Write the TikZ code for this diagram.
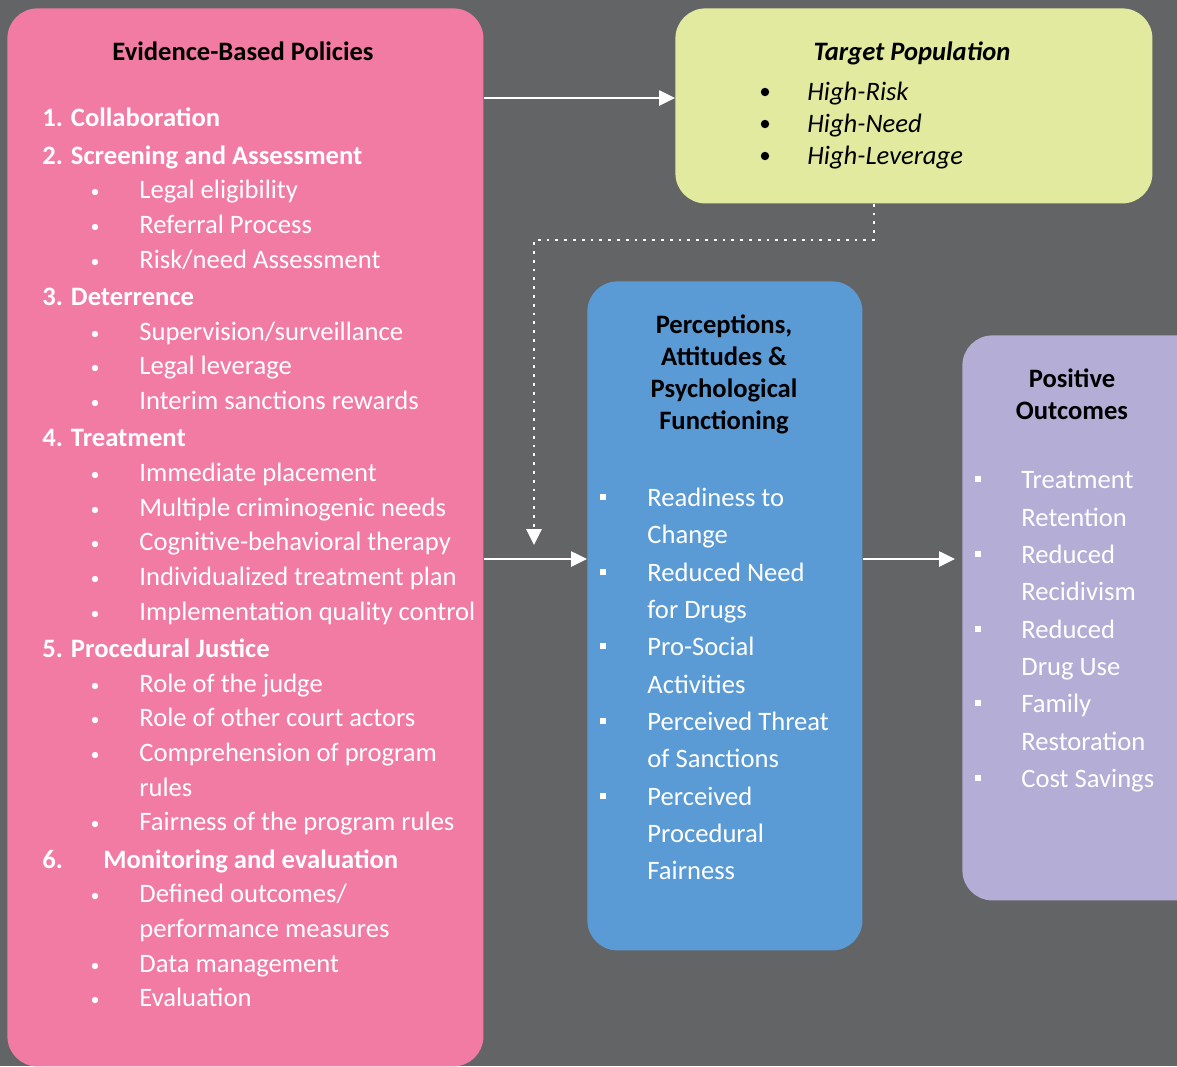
\documentclass[tikz,border=0pt]{standalone}
\usepackage{fontspec}
\setmainfont{Carlito}
\usetikzlibrary{arrows.meta,positioning}
\definecolor{bggray}{RGB}{99,100,102}
\definecolor{pinkbox}{RGB}{242,123,163}
\definecolor{yellowbox}{RGB}{225,234,158}
\definecolor{bluebox}{RGB}{91,155,213}
\definecolor{purplebox}{RGB}{180,173,214}
\newcommand{\fs}{\fontsize{13.3}{16}\selectfont}
\tikzset{
    box/.style = {rectangle, rounded corners=15pt, inner sep=0pt, anchor=north west},
    head/.style = {font=\fs\bfseries, text=black, anchor=base, inner sep=0pt},
    lvl/.style = {font=\fs\bfseries, text=white, anchor=base west, inner sep=0pt},
    item/.style = {font=\fs, text=white, anchor=base west, inner sep=0pt},
    target/.style = {font=\fs\itshape, text=black, anchor=base west, inner sep=0pt},
    dot/.style = {circle, fill=white, inner sep=0pt, minimum size=3.2pt},
    bigdot/.style = {circle, fill=black, inner sep=0pt, minimum size=4.2pt},
    sq/.style = {rectangle, fill=white, inner sep=0pt, minimum size=3pt},
    flow/.style = {draw=white, line width=1.3pt, -{Triangle[length=8pt,width=7.5pt]}},
    dotflow/.style = {draw=white, line width=1.4pt, dash pattern=on 1.4pt off 3pt,
        -{Triangle[length=8pt,width=7.5pt]}}
}

\begin{document}
\begin{tikzpicture}[x=0.5pt,y=-0.5pt]
\fill[bggray] (0,0) rectangle (1177,1066);
\useasboundingbox (0,0) rectangle (1177,1066);
% boxes
\node[box, fill=pinkbox, minimum width=238pt, minimum height=529pt] (policies) at (7,8) {};
\node[box, fill=yellowbox, minimum width=238.5pt, minimum height=97.5pt] (target) at (675,8) {};
\node[box, fill=bluebox, minimum width=137.5pt, minimum height=334.5pt] (percep) at (587,281) {};
\node[box, fill=purplebox, minimum width=125pt, minimum height=282.5pt] (outcome) at (962,335) {};

% evidence-based policies
\node[head] (ptitle) at (243,60) {Evidence-Based Policies};
\node[lvl] (l1) at (42,126) {1. Collaboration};
\node[lvl] (l2) at (42,164) {2. Screening and Assessment};
\node[item] (s21) at (139,198) {Legal eligibility};
\node[item] (s22) at (139,233) {Referral Process};
\node[item] (s23) at (139,268) {Risk/need Assessment};
\node[lvl] (l3) at (42,305) {3. Deterrence};
\node[item] (s31) at (139,340) {Supervision/surveillance};
\node[item] (s32) at (139,374) {Legal leverage};
\node[item] (s33) at (139,409) {Interim sanctions rewards};
\node[lvl] (l4) at (42,446) {4. Treatment};
\node[item] (s41) at (139,481) {Immediate placement};
\node[item] (s42) at (139,516) {Multiple criminogenic needs};
\node[item] (s43) at (139,550) {Cognitive-behavioral therapy};
\node[item] (s44) at (139,585) {Individualized treatment plan};
\node[item] (s45) at (139,620) {Implementation quality control};
\node[lvl] (l5) at (42,657) {5. Procedural Justice};
\node[item] (s51) at (139,692) {Role of the judge};
\node[item] (s52) at (139,726) {Role of other court actors};
\node[item] (s53) at (139,761) {Comprehension of program};
\node[item] (s53b) at (139,796) {rules};
\node[item] (s54) at (139,830) {Fairness of the program rules};
\node[lvl] (l6) at (42,868) {6.};
\node[lvl] (l6b) at (103,868) {Monitoring and evaluation};
\node[item] (s61) at (139,902) {Defined outcomes/};
\node[item] (s61b) at (139,937) {performance measures};
\node[item] (s62) at (139,972) {Data management};
\node[item] (s63) at (139,1006) {Evaluation};
\foreach \y [count=\i] in {192,227,262,334,368,403,475,510,544,579,614,686,720,755,824,896,966,1000}
    \node[dot] (pd\i) at (95,\y) {};

% target population
\node[head, font=\fs\bfseries\itshape] (ttitle) at (912,60) {Target Population};
\node[bigdot] (td1) at (765,92) {};
\node[bigdot] (td2) at (765,124) {};
\node[bigdot] (td3) at (765,156) {};
\node[target] (t1) at (807,100) {High-Risk};
\node[target] (t2) at (807,132) {High-Need};
\node[target] (t3) at (807,164) {High-Leverage};

% perceptions
\node[head] (bt1) at (724,333) {Perceptions,};
\node[head] (bt2) at (724,365) {Attitudes \&};
\node[head] (bt3) at (724,397) {Psychological};
\node[head] (bt4) at (724,429) {Functioning};
\node[item] (b1) at (647,506) {Readiness to};
\node[item] (b1b) at (647,543) {Change};
\node[item] (b2) at (647,581) {Reduced Need};
\node[item] (b2b) at (647,618) {for Drugs};
\node[item] (b3) at (647,655) {Pro-Social};
\node[item] (b3b) at (647,693) {Activities};
\node[item] (b4) at (647,730) {Perceived Threat};
\node[item] (b4b) at (647,767) {of Sanctions};
\node[item] (b5) at (647,805) {Perceived};
\node[item] (b5b) at (647,842) {Procedural};
\node[item] (b5c) at (647,879) {Fairness};
\foreach \y [count=\i] in {497,572,646,721,796}
    \node[sq] (bs\i) at (603,\y) {};

% outcomes
\node[head] (ot1) at (1072,387) {Positive};
\node[head] (ot2) at (1072,419) {Outcomes};
\node[item] (o1) at (1021,488) {Treatment};
\node[item] (o1b) at (1021,526) {Retention};
\node[item] (o2) at (1021,563) {Reduced};
\node[item] (o2b) at (1021,600) {Recidivism};
\node[item] (o3) at (1021,638) {Reduced};
\node[item] (o3b) at (1021,675) {Drug Use};
\node[item] (o4) at (1021,712) {Family};
\node[item] (o4b) at (1021,750) {Restoration};
\node[item] (o5) at (1021,787) {Cost Savings};
\foreach \y [count=\i] in {479,554,629,703,778}
    \node[sq] (os\i) at (978,\y) {};

% connectors
\draw[flow] (policies.east |- 0,98) -- (target.west |- 0,98);
\draw[flow] (policies.east |- 0,559) -- (percep.west |- 0,559);
\draw[flow, shorten >=3.5pt] (percep.east |- 0,559) -- (outcome.west |- 0,559);
\draw[dotflow] (target.south -| 874,0) |- (534,240) -- (534,545);
\end{tikzpicture}
\end{document}
